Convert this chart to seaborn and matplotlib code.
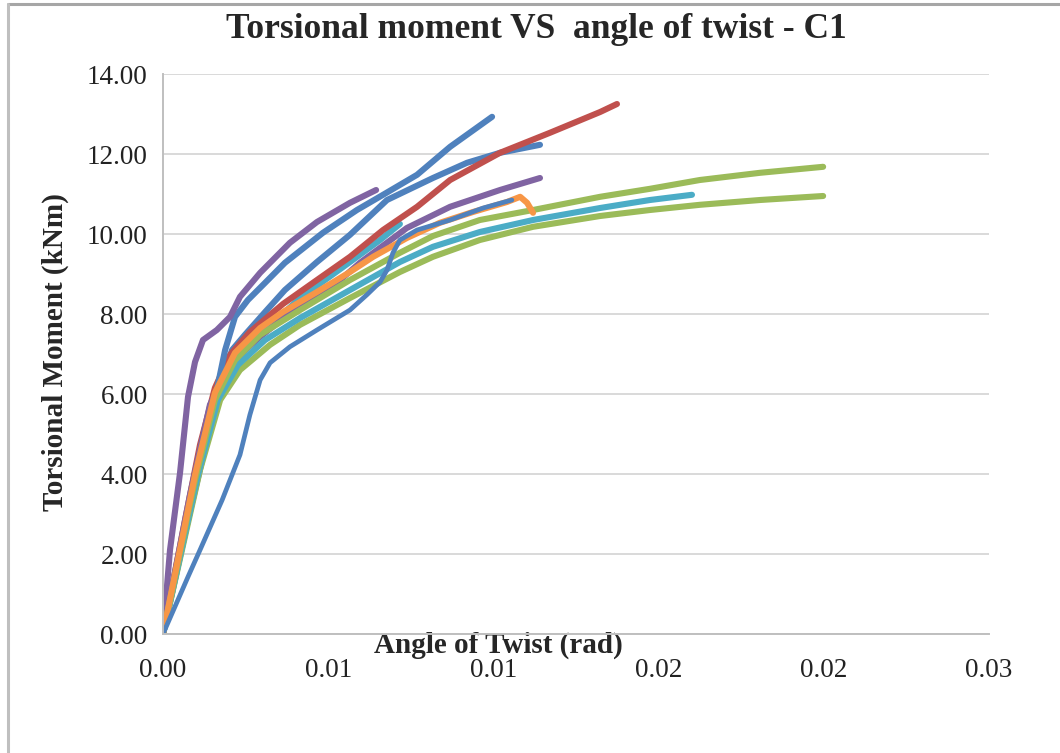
import pandas as pd
import matplotlib.pyplot as plt
import seaborn as sns
from matplotlib.lines import Line2D

# Torsional moment (kNm) vs angle of twist (rad), specimen C1
purple_a_x = [0, 0.000212, 0.000515, 0.000757, 0.000969, 0.00121, 0.00163, 0.00203, 0.00233, 0.00294, 0.00384, 0.00466, 0.00566, 0.00645]
purple_a_y = [0, 2.10, 4.03, 5.93, 6.80, 7.35, 7.60, 7.93, 8.43, 9.03, 9.78, 10.30, 10.78, 11.10]

blue_a_x = [0, 0.000666, 0.00127, 0.00188, 0.00218, 0.00257, 0.00309, 0.00369, 0.00484, 0.00587, 0.00666, 0.00769, 0.00869, 0.00996]
blue_a_y = [0, 2.60, 4.68, 7.10, 7.93, 8.35, 8.78, 9.28, 10.03, 10.60, 10.98, 11.48, 12.18, 12.93]

blue_b_x = [0, 0.000757, 0.00133, 0.00179, 0.00209, 0.00248, 0.00309, 0.00369, 0.00466, 0.00566, 0.00678, 0.00817, 0.00920, 0.01020, 0.01141]
blue_b_y = [0, 2.85, 4.85, 6.35, 7.10, 7.48, 8.05, 8.60, 9.30, 9.98, 10.85, 11.40, 11.78, 12.03, 12.23]

red_x = [0, 0.000666, 0.00112, 0.00157, 0.00203, 0.00263, 0.00363, 0.00466, 0.00566, 0.00666, 0.00769, 0.00869, 0.01020, 0.01171, 0.01323, 0.01374]
red_y = [0, 2.85, 4.73, 6.15, 6.98, 7.55, 8.25, 8.85, 9.43, 10.10, 10.68, 11.35, 12.03, 12.53, 13.05, 13.25]

purple_b_x = [0, 0.000817, 0.00142, 0.00209, 0.00294, 0.00415, 0.00536, 0.00596, 0.00738, 0.00869, 0.01020, 0.01141]
purple_b_y = [0, 3.48, 5.73, 6.80, 7.43, 8.23, 8.85, 9.28, 10.15, 10.68, 11.10, 11.40]

orange_x = [0, 0.000969, 0.00157, 0.00218, 0.00294, 0.00363, 0.00466, 0.00566, 0.00636, 0.00738, 0.00838, 0.00938, 0.01041, 0.01081, 0.01102, 0.01120]
orange_y = [0, 3.98, 6.03, 7.03, 7.65, 8.05, 8.55, 9.05, 9.43, 9.90, 10.28, 10.55, 10.80, 10.93, 10.78, 10.53]

blue_c_x = [0, 0.000757, 0.00112, 0.00179, 0.00233, 0.00263, 0.00294, 0.00324, 0.00384, 0.00466, 0.00566, 0.00617, 0.00657, 0.00678, 0.00696, 0.00717, 0.00769, 0.00869, 0.00969, 0.01056]
blue_c_y = [0, 1.43, 2.10, 3.35, 4.48, 5.48, 6.35, 6.78, 7.18, 7.60, 8.10, 8.48, 8.80, 9.10, 9.53, 9.85, 10.10, 10.35, 10.65, 10.85]

green_a_x = [0, 0.000969, 0.00157, 0.00218, 0.00294, 0.00415, 0.00566, 0.00717, 0.00817, 0.00959, 0.01120, 0.01323, 0.01474, 0.01625, 0.01807, 0.01998]
green_a_y = [0, 3.85, 5.85, 6.85, 7.48, 8.10, 8.85, 9.53, 9.95, 10.35, 10.60, 10.93, 11.13, 11.35, 11.53, 11.68]

green_b_x = [0, 0.00112, 0.00173, 0.00233, 0.00324, 0.00415, 0.00566, 0.00717, 0.00817, 0.00959, 0.01120, 0.01323, 0.01474, 0.01625, 0.01807, 0.01998]
green_b_y = [0, 4.10, 5.85, 6.60, 7.23, 7.73, 8.40, 9.05, 9.43, 9.85, 10.18, 10.45, 10.60, 10.73, 10.85, 10.95]

aqua_a_x = [0, 0.001059, 0.00166, 0.00227, 0.00309, 0.00415, 0.00566, 0.00717, 0.00817, 0.00959, 0.01120, 0.01323, 0.01474, 0.01601]
aqua_a_y = [0, 3.98, 5.85, 6.73, 7.35, 7.90, 8.60, 9.30, 9.68, 10.05, 10.35, 10.65, 10.85, 10.98]

aqua_b_x = [0, 0.000817, 0.00142, 0.00203, 0.00294, 0.00415, 0.00566, 0.00657, 0.00717]
aqua_b_y = [0, 3.35, 5.60, 6.73, 7.48, 8.40, 9.30, 9.85, 10.25]

x_ticks = [0, 0.005, 0.010, 0.015, 0.020, 0.025]
x_tick_labels = ["0.00", "0.01", "0.01", "0.02", "0.02", "0.03"]
y_ticks = [0, 2, 4, 6, 8, 10, 12, 14]

# ordem de desenho = ordem da lista
series = [
    ("aqua_b", aqua_b_x, aqua_b_y, "#4BACC6"),
    ("blue_b", blue_b_x, blue_b_y, "#4F81BD"),
    ("red", red_x, red_y, "#C0504D"),
    ("blue_a", blue_a_x, blue_a_y, "#4F81BD"),
    ("purple_a", purple_a_x, purple_a_y, "#8064A2"),
    ("purple_b", purple_b_x, purple_b_y, "#8064A2"),
    ("green_b", green_b_x, green_b_y, "#9BBB59"),
    ("aqua_a", aqua_a_x, aqua_a_y, "#4BACC6"),
    ("green_a", green_a_x, green_a_y, "#9BBB59"),
    ("orange", orange_x, orange_y, "#F79646"),
    ("blue_c", blue_c_x, blue_c_y, "#4F81BD"),
]

frames = []
for nome, xs, ys, _ in series:
    frames.append(pd.DataFrame({"serie": nome, "angle": xs, "moment": ys}))
df = pd.concat(frames, ignore_index=True)
palette = {nome: cor for nome, _, _, cor in series}
ordem = [s[0] for s in series]

sns.set_theme(style="white")
plt.rcParams["font.family"] = ["Liberation Serif", "DejaVu Serif"]
plt.rcParams["lines.solid_joinstyle"] = "round"
plt.rcParams["lines.solid_capstyle"] = "round"

fig = plt.figure(figsize=(10.6, 7.53), dpi=100)
ax = fig.add_axes([163 / 1060, 1 - 634 / 753, (989 - 163) / 1060, (634 - 74) / 753])

sns.lineplot(data=df[df.serie != "blue_c"], x="angle", y="moment", hue="serie",
             hue_order=[o for o in ordem if o != "blue_c"], palette=palette,
             sort=False, estimator=None, linewidth=4.4, legend=False, ax=ax)
sns.lineplot(data=df[df.serie == "blue_c"], x="angle", y="moment", color="#4F81BD",
             sort=False, estimator=None, linewidth=3.4, legend=False, ax=ax)

ax.set_xlim(0, 0.025)
ax.set_ylim(0, 14)
ax.set_xticks(x_ticks)
ax.set_xticklabels(x_tick_labels)
ax.set_yticks(y_ticks)
ax.set_yticklabels([f"{v:.2f}" for v in y_ticks])
ax.tick_params(axis="both", length=0, labelsize=19.5, colors="#222222")
ax.tick_params(axis="x", pad=17)
ax.tick_params(axis="y", pad=11)
ax.yaxis.grid(True, color="#D9D9D9", linewidth=1.4)
ax.xaxis.grid(False)
for lado in ["top", "right"]:
    ax.spines[lado].set_visible(False)
for lado in ["left", "bottom"]:
    ax.spines[lado].set_color("#BFBFBF")
    ax.spines[lado].set_linewidth(1.4)
ax.set_zorder(1)
ax.patch.set_alpha(0)

ax.set_xlabel("Angle of Twist (rad)", fontsize=21, fontweight="bold", va="center")
ax.xaxis.set_label_coords((498 - 163) / 826, -11 / 560)
ax.set_ylabel("Torsional Moment (kNm)", fontsize=21, fontweight="bold", va="center")
ax.yaxis.set_label_coords((55 - 163) / 826, (634 - 352) / 560)

fig.text(536 / 1060, 1 - 29 / 753, "Torsional moment VS  angle of twist - C1",
         ha="center", va="center", fontsize=25.5, fontweight="bold")

# moldura do gráfico (borda superior e esquerda)
fig.add_artist(Line2D([8 / 1060, 1], [1 - 4 / 753, 1 - 4 / 753], transform=fig.transFigure,
                      color="#A6A6A6", linewidth=2.2))
fig.add_artist(Line2D([8 / 1060, 8 / 1060], [0, 1 - 4 / 753], transform=fig.transFigure,
                      color="#BFBFBF", linewidth=2.2))

fig.savefig("out.png", dpi=100)
plt.close(fig)
